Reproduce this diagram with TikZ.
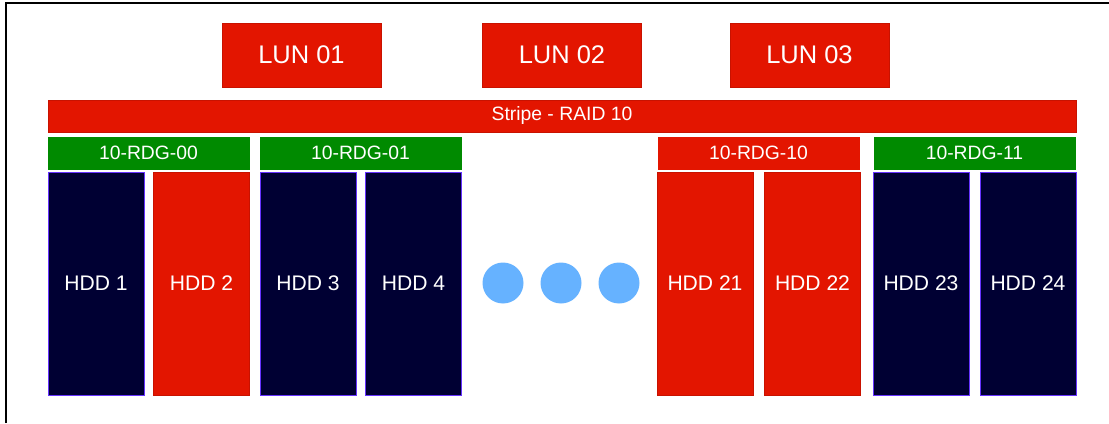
\documentclass[tikz,border=0pt]{standalone}
\usepackage{fontspec}
\setsansfont{Liberation Sans}
\definecolor{lunred}{HTML}{E31500}
\definecolor{redline}{HTML}{C81200}
\definecolor{rdggreen}{HTML}{008A00}
\definecolor{hddnavy}{HTML}{000033}
\definecolor{hddline}{HTML}{6633FF}
\definecolor{dotblue}{HTML}{66B2FF}
\begin{document}
\begin{tikzpicture}[x=0.02cm,y=-0.02cm,font=\sffamily,text=white,
	lun/.style={draw=redline,fill=lunred,minimum width=3.18cm,minimum height=1.28cm,font=\sffamily\fontsize{14.5}{16}\selectfont},
	stripe/.style={draw=redline,fill=lunred,minimum width=20.56cm,minimum height=0.64cm,font=\sffamily\fontsize{11}{13}\selectfont},
	rdg/.style={draw=#1,fill=#1,minimum width=4.02cm,minimum height=0.64cm,font=\sffamily\fontsize{11}{13}\selectfont},
	hdd/.style={draw=hddline,fill=hddnavy,minimum width=1.92cm,minimum height=4.46cm,font=\sffamily\fontsize{12}{14}\selectfont},
	hddr/.style={hdd,draw=redline,fill=lunred},
	dot/.style={circle,fill=dotblue,minimum size=0.82cm,inner sep=0pt}]
	\useasboundingbox (0,0) rectangle (1109,423);
	\draw[line width=1.1pt] (6,423) -- (6,3) -- (1109,3);
	\node[lun] (lun1) at (301.5,55) {LUN 01};
	\node[lun] (lun2) at (562,55) {LUN 02};
	\node[lun] (lun3) at (809.5,55) {LUN 03};
	\node[stripe] (stripe) at (562,116) {Stripe - RAID 10};
	\node[rdg=rdggreen] (rdg00) at (148.5,153) {10-RDG-00};
	\node[rdg=rdggreen] (rdg01) at (360.5,153) {10-RDG-01};
	\node[rdg=lunred] (rdg10) at (758.5,153) {10-RDG-10};
	\node[rdg=rdggreen] (rdg11) at (974.5,153) {10-RDG-11};
	\node[hdd] (hdd1) at (96,283.5) {HDD 1};
	\node[hddr] (hdd2) at (201.5,283.5) {HDD 2};
	\node[hdd] (hdd3) at (308,283.5) {HDD 3};
	\node[hdd] (hdd4) at (413.5,283.5) {HDD 4};
	\node[dot] (dot1) at (503,283) {};
	\node[dot] (dot2) at (561,283) {};
	\node[dot] (dot3) at (619,283) {};
	\node[hddr] (hdd21) at (705,283.5) {HDD 21};
	\node[hddr] (hdd22) at (812.5,283.5) {HDD 22};
	\node[hdd] (hdd23) at (921,283.5) {HDD 23};
	\node[hdd] (hdd24) at (1028,283.5) {HDD 24};
\end{tikzpicture}
\end{document}
